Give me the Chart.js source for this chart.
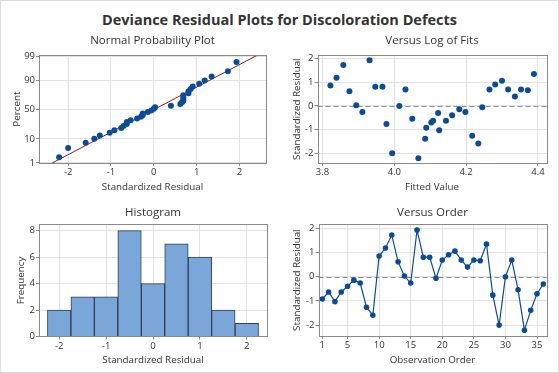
<!DOCTYPE html>
<html>
<head>
<meta charset="utf-8">
<script src="https://cdn.jsdelivr.net/npm/chart.js@4/dist/chart.umd.min.js"></script>
<style>
  body { margin: 0; background: #fff; }
  #wrap { position: relative; width: 559px; height: 373px; overflow: hidden; font-family: "Open Sans", sans-serif; }
  #title { position: absolute; left: 0; top: 9px; width: 559px; text-align: center; font-size: 14.5px; line-height: 22px; font-weight: bold; color: #333; }
  #border { position: absolute; left: 0; top: 0; width: 559px; height: 373px; border: 1px solid #dcdcdc; box-sizing: border-box; pointer-events: none; }
  canvas { position: absolute; }
</style>
</head>
<body>
<div id="wrap">
  <div id="title">Deviance Residual Plots for Discoloration Defects</div>
  <canvas id="normal" width="280" height="170" style="left:0;top:30px"></canvas>
  <canvas id="fits" width="279" height="170" style="left:280px;top:30px"></canvas>
  <canvas id="hist" width="280" height="173" style="left:0;top:200px"></canvas>
  <canvas id="order" width="279" height="173" style="left:280px;top:200px"></canvas>
  <div id="border"></div>
</div>
<script>
// standardized deviance residuals, in observation order
const resid = [-0.92, -0.63, -1.03, -0.63, -0.39, -0.14, -0.26, -1.26, -1.59, 0.86,
  1.19, 1.73, 0.62, 0.03, -0.26, 1.93, 0.81, 0.81, -0.06, 0.69,
  0.91, 1.06, 0.69, 0.40, 0.69, 0.66, 1.35, -0.76, -2.00, 0.00,
  0.69, -0.54, -2.21, -1.39, -0.70, -0.30];
// log of fitted values, same order
const fitted = [4.089, 4.108, 4.125, 4.144, 4.161, 4.181, 4.198, 4.217, 4.234, 3.822,
  3.839, 3.858, 3.875, 3.894, 3.911, 3.931, 3.947, 3.967, 4.245, 4.031,
  4.281, 4.300, 4.265, 4.336, 4.317, 4.372, 4.389, 3.978, 3.994, 4.014,
  4.353, 4.050, 4.067, 4.086, 4.103, 4.122];
// plotting positions (percent) for the sorted residuals
const probPct = [1.9, 4.7, 7.4, 10.2, 12.9, 15.7, 18.4, 21.2, 23.9, 26.6,
  29.4, 32.1, 34.9, 37.6, 40.4, 43.1, 45.9, 48.6, 51.4, 54.1,
  56.9, 59.6, 62.4, 65.1, 67.9, 70.6, 73.4, 76.1, 78.8, 81.6,
  84.3, 87.1, 89.8, 92.6, 95.3, 98.1];
// histogram bins
const binMid = [-2, -1.5, -1, -0.5, 0, 0.5, 1, 1.5, 2];
const binFreq = [2, 3, 3, 8, 4, 7, 6, 2, 1];

// tick labels
const pctTicks = [1, 10, 50, 90, 99];
const residTicks = [-2, -1, 0, 1, 2];
const fitTicks = [3.8, 4.0, 4.2, 4.4];
const freqTicks = [0, 2, 4, 6, 8];
const orderTicks = [1, 5, 10, 15, 20, 25, 30, 35];

const BLUE = '#0d4c94';
const TXT = '#333333';
const GRID = '#e2e2e2';
const FRAME = '#8a8a8a';
const FONT = '"Open Sans", sans-serif';

// inverse normal cdf (Acklam)
function qnorm(p) {
  const a = [-39.69683028665376, 220.9460984245205, -275.9285104469687, 138.357751867269, -30.66479806614716, 2.506628277459239];
  const b = [-54.47609879822406, 161.5858368580409, -155.6989798598866, 66.80131188771972, -13.28068155288572];
  const c = [-0.007784894002430293, -0.3223964580411365, -2.400758277161838, -2.549732539343734, 4.374664141464968, 2.938163982698783];
  const d = [0.007784695709041462, 0.3224671290700398, 2.445134137142996, 3.754408661907416];
  const pl = 0.02425;
  let q, r;
  if (p < pl) {
    q = Math.sqrt(-2 * Math.log(p));
    return (((((c[0]*q+c[1])*q+c[2])*q+c[3])*q+c[4])*q+c[5]) / ((((d[0]*q+d[1])*q+d[2])*q+d[3])*q+1);
  }
  if (p > 1 - pl) {
    q = Math.sqrt(-2 * Math.log(1 - p));
    return -(((((c[0]*q+c[1])*q+c[2])*q+c[3])*q+c[4])*q+c[5]) / ((((d[0]*q+d[1])*q+d[2])*q+d[3])*q+1);
  }
  q = p - 0.5; r = q * q;
  return (((((a[0]*r+a[1])*r+a[2])*r+a[3])*r+a[4])*r+a[5])*q / (((((b[0]*r+b[1])*r+b[2])*r+b[3])*r+b[4])*r+1);
}

// frame around plot area + optional dashed zero line
const framePlugin = {
  id: 'frame',
  beforeDatasetsDraw(chart, args, opts) {
    if (!opts.zero) return;
    const {ctx, chartArea: a} = chart;
    const y = Math.round(chart.scales.y.getPixelForValue(0)) + 0.5;
    ctx.save();
    ctx.strokeStyle = '#8c8c8c';
    ctx.lineWidth = 1;
    ctx.setLineDash([5, 3]);
    ctx.beginPath();
    ctx.moveTo(a.left, y);
    ctx.lineTo(a.right, y);
    ctx.stroke();
    ctx.restore();
  },
  afterDraw(chart) {
    const {ctx, chartArea: a} = chart;
    ctx.save();
    ctx.strokeStyle = FRAME;
    ctx.lineWidth = 1;
    ctx.strokeRect(Math.round(a.left) + 0.5, Math.round(a.top) + 0.5, Math.round(a.right - a.left), Math.round(a.bottom - a.top));
    ctx.restore();
  }
};
Chart.register(framePlugin);

function axis(o) {
  return {
    type: 'linear',
    min: o.min, max: o.max,
    offset: false,
    afterBuildTicks: s => { s.ticks = o.ticks.map(v => ({value: v})); },
    afterFit: s => { if (o.w) s.width = o.w; if (o.h) s.height = o.h; },
    grid: {color: GRID, tickLength: 3, tickColor: FRAME, offset: false},
    border: {display: false},
    ticks: {font: {family: FONT, size: 9.5}, color: TXT, padding: 1, maxRotation: 0, autoSkip: false, callback: o.label},
    title: {display: true, text: o.title, font: {family: FONT, size: 9.8}, color: TXT, padding: o.tpad}
  };
}

function panelTitle(text, top, bottom) {
  return {display: true, fullSize: false, text: text, color: TXT, font: {family: FONT, size: 11.5, weight: 'normal'}, padding: {top: top, bottom: bottom}};
}

function baseOptions(title, padRight, scales, zero) {
  return {
    responsive: false, animation: false, devicePixelRatio: 1,
    layout: {padding: {left: 0, right: padRight, top: 0, bottom: 0}},
    plugins: {legend: {display: false}, tooltip: {enabled: false}, title: title, frame: {zero: zero}},
    scales: scales
  };
}

// ---- normal probability plot
const sorted = resid.slice().sort((a, b) => a - b);
const mean = resid.reduce((s, v) => s + v, 0) / resid.length;
const sd = Math.sqrt(resid.reduce((s, v) => s + (v - mean) * (v - mean), 0) / (resid.length - 1));
const nxMin = -2.68, nxMax = 2.62;
new Chart(document.getElementById('normal'), {
  type: 'scatter',
  data: {datasets: [
    {data: sorted.map((v, i) => ({x: v, y: qnorm(probPct[i] / 100)})), backgroundColor: BLUE, borderColor: BLUE, pointRadius: 3, pointBorderWidth: 0},
    {type: 'line', data: [nxMin, nxMax].map(x => ({x: x, y: (x - mean) / sd})), borderColor: '#8b1a1a', borderWidth: 1, pointRadius: 0}
  ]},
  options: baseOptions(panelTitle('Normal Probability Plot', 3.5, 8), 14, {
    x: axis({min: nxMin, max: nxMax, ticks: residTicks, h: 37, title: 'Standardized Residual', tpad: {bottom: 7}}),
    y: axis({min: -2.33, max: 2.37, ticks: pctTicks.map(p => qnorm(p / 100)), w: 39, title: 'Percent', tpad: {top: 11},
      label: (v, i) => pctTicks[i]})
  }, false)
});

// ---- versus fits
new Chart(document.getElementById('fits'), {
  type: 'scatter',
  data: {datasets: [
    {data: resid.map((v, i) => ({x: fitted[i], y: v})), backgroundColor: BLUE, borderColor: BLUE, pointRadius: 3, pointBorderWidth: 0}
  ]},
  options: baseOptions(panelTitle('Versus Log of Fits', 3.5, 8), 12.5, {
    x: axis({min: 3.786, max: 4.424, ticks: fitTicks, h: 37, title: 'Fitted Value', tpad: {bottom: 7}, label: v => v.toFixed(1)}),
    y: axis({min: -2.41, max: 2.14, ticks: residTicks, w: 37.5, title: 'Standardized Residual', tpad: {top: 11}})
  }, true)
});

// ---- histogram
new Chart(document.getElementById('hist'), {
  type: 'bar',
  data: {datasets: [
    {data: binMid.map((m, i) => ({x: m, y: binFreq[i]})), backgroundColor: '#7ba6da', borderColor: '#2e3f55', borderWidth: 1,
      barPercentage: 1, categoryPercentage: 1}
  ]},
  options: baseOptions(panelTitle('Histogram', 6, 4.5), 13, {
    x: axis({min: -2.43, max: 2.43, ticks: residTicks, h: 36.5, title: 'Standardized Residual', tpad: {bottom: 7}}),
    y: axis({min: 0, max: 8.48, ticks: freqTicks, w: 39, title: 'Frequency', tpad: {top: 15}})
  }, false)
});

// ---- versus order
new Chart(document.getElementById('order'), {
  type: 'line',
  data: {datasets: [
    {data: resid.map((v, i) => ({x: i + 1, y: v})), borderColor: BLUE, backgroundColor: BLUE, borderWidth: 1.2,
      pointRadius: 2.8, pointBorderWidth: 0, tension: 0}
  ]},
  options: baseOptions(panelTitle('Versus Order', 6, 4.5), 12.5, {
    x: axis({min: 0.4, max: 36.5, ticks: orderTicks, h: 37, title: 'Observation Order', tpad: {bottom: 7}}),
    y: axis({min: -2.45, max: 2.17, ticks: residTicks, w: 38.5, title: 'Standardized Residual', tpad: {top: 11}})
  }, true)
});
</script>
</body>
</html>
